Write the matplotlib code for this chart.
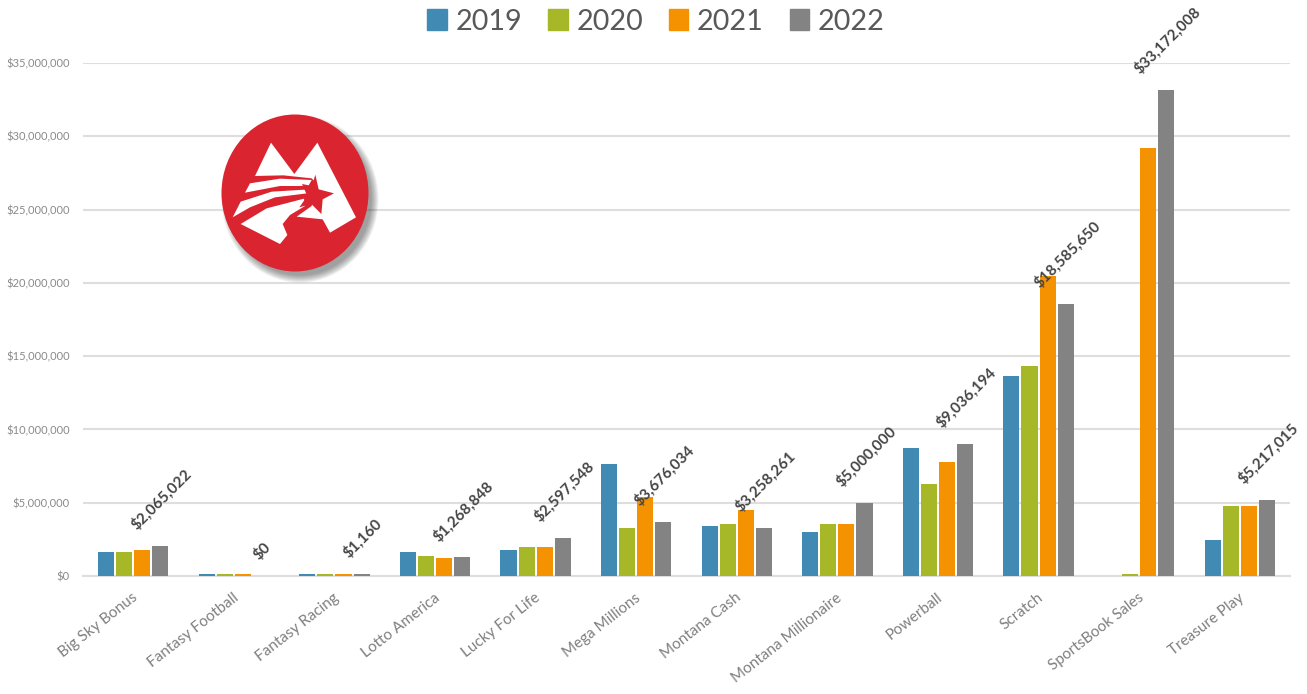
import numpy as np
import matplotlib
matplotlib.use('Agg')
import matplotlib.pyplot as plt
from matplotlib.patches import Ellipse, Polygon, Patch
from matplotlib.transforms import ScaledTranslation

W, H = 1307, 694
plt.rcParams['font.family'] = ['Lato', 'DejaVu Sans']

games = ['Big Sky Bonus', 'Fantasy Football', 'Fantasy Racing', 'Lotto America',
         'Lucky For Life', 'Mega Millions', 'Montana Cash', 'Montana Millionaire',
         'Powerball', 'Scratch', 'SportsBook Sales', 'Treasure Play']
years = ['2019', '2020', '2021', '2022']
v2019 = [1650000, 150000, 150000, 1650000, 1800000, 7650000, 3400000, 3000000,
         8700000, 13650000, 0, 2450000]
v2020 = [1650000, 150000, 150000, 1350000, 1950000, 3300000, 3550000, 3550000,
         6300000, 14350000, 150000, 4800000]
v2021 = [1800000, 150000, 150000, 1250000, 1950000, 5400000, 4500000, 3550000,
         7800000, 20500000, 29200000, 4800000]
v2022 = [2065022, 0, 150000, 1268848, 2597548, 3676034, 3258261, 5000000,
         9036194, 18585650, 33172008, 5217015]
labels_2022 = ['$2,065,022', '$0', '$1,160', '$1,268,848', '$2,597,548', '$3,676,034',
               '$3,258,261', '$5,000,000', '$9,036,194', '$18,585,650', '$33,172,008',
               '$5,217,015']
colors = ['#418AB3', '#A6B727', '#F59201', '#838383']
yticks = [0, 5000000, 10000000, 15000000, 20000000, 25000000, 30000000, 35000000]

fig = plt.figure(figsize=(W / 100, H / 100), dpi=100)
ax = fig.add_axes([83 / W, 1 - 576 / H, (1290 - 83) / W, (576 - 63) / H])

x = np.arange(len(games))
series = [v2019, v2020, v2021, v2022]
for i, vals in enumerate(series):
    ax.bar(x + (i - 1.5) * 0.18, vals, width=0.16, color=colors[i], zorder=3)

for xi, val, lab in zip(x, v2022, labels_2022):
    ax.annotate(lab, (xi + 0.27, val), xytext=(1, 9.5), textcoords='offset points',
                rotation=45, ha='center', va='bottom', fontsize=11, fontweight='bold',
                color='#454545', zorder=5)

ax.set_xlim(-0.5, 11.5)
ax.set_ylim(0, 35000000)
ax.set_yticks(yticks)
ax.set_yticklabels(['${:,}'.format(t) for t in yticks], fontsize=8, color='#8a8a8a')
ax.set_xticks(x)
ax.set_xticklabels(games, rotation=38, ha='right', rotation_mode='anchor',
                   fontsize=11, color='#7f7f7f')
ax.tick_params(axis='both', length=0)
ax.tick_params(axis='x', pad=10.5)
ax.tick_params(axis='y', pad=9.4)
shift = ScaledTranslation(-1 / 72, 0, fig.dpi_scale_trans)
for t in ax.get_xticklabels():
    t.set_transform(t.get_transform() + shift)
ax.grid(axis='y', color='#DEDEDE', lw=1.5, zorder=0)
ax.set_axisbelow(True)
for s in ax.spines.values():
    s.set_visible(False)
ax.spines['bottom'].set_visible(True)
ax.spines['bottom'].set_color('#DEDEDE')
ax.spines['bottom'].set_linewidth(1.5)

handles = [Patch(color=c) for c in colors]
fig.legend(handles, years, loc='upper center', bbox_to_anchor=(656 / W, 1.025), ncol=4,
           frameon=False, fontsize=20.7, labelcolor='#595959', handlelength=0.68,
           handleheight=0.72, handletextpad=0.3, columnspacing=0.9)

# logo, drawn in picture pixels
logo = fig.add_axes([0, 0, 1, 1], facecolor='none')
logo.set_xlim(0, W)
logo.set_ylim(H, 0)
logo.axis('off')


def zp(points):
    return [(200 + a / 3, 100 + b / 3) for a, b in points]


for grow in range(14, -1, -2):
    logo.add_patch(Ellipse((300, 199), 143 + grow, 153 + grow, color='#303030', alpha=0.07, lw=0))
red = '#DA2530'
logo.add_patch(Ellipse((295, 193), 147, 157, color=red, lw=0))
logo.add_patch(Polygon(zp([(165, 228), (213, 128), (283, 222), (352, 128), (468, 352),
                           (390, 398), (368, 358), (290, 350), (335, 318), (350, 250),
                           (335, 235), (250, 226)]), color='white', lw=0))
logo.add_patch(Polygon(zp([(135, 278), (150, 250), (240, 236), (335, 240), (325, 258),
                           (240, 258)]), color='white', lw=0))
logo.add_patch(Polygon(zp([(98, 352), (122, 305), (215, 275), (330, 268), (322, 280),
                           (225, 292), (150, 322)]), color='white', lw=0))
logo.add_patch(Polygon(zp([(122, 372), (200, 325), (312, 296), (315, 318), (270, 345),
                           (248, 372), (262, 405), (240, 432)]), color='white', lw=0))
logo.add_patch(Polygon(zp([(346, 224), (356, 268), (402, 280), (368, 298), (364, 342),
                           (334, 312), (298, 322), (322, 288), (306, 252), (336, 258)]),
                       color=red, lw=0))

fig.savefig('out.png', dpi=100)
